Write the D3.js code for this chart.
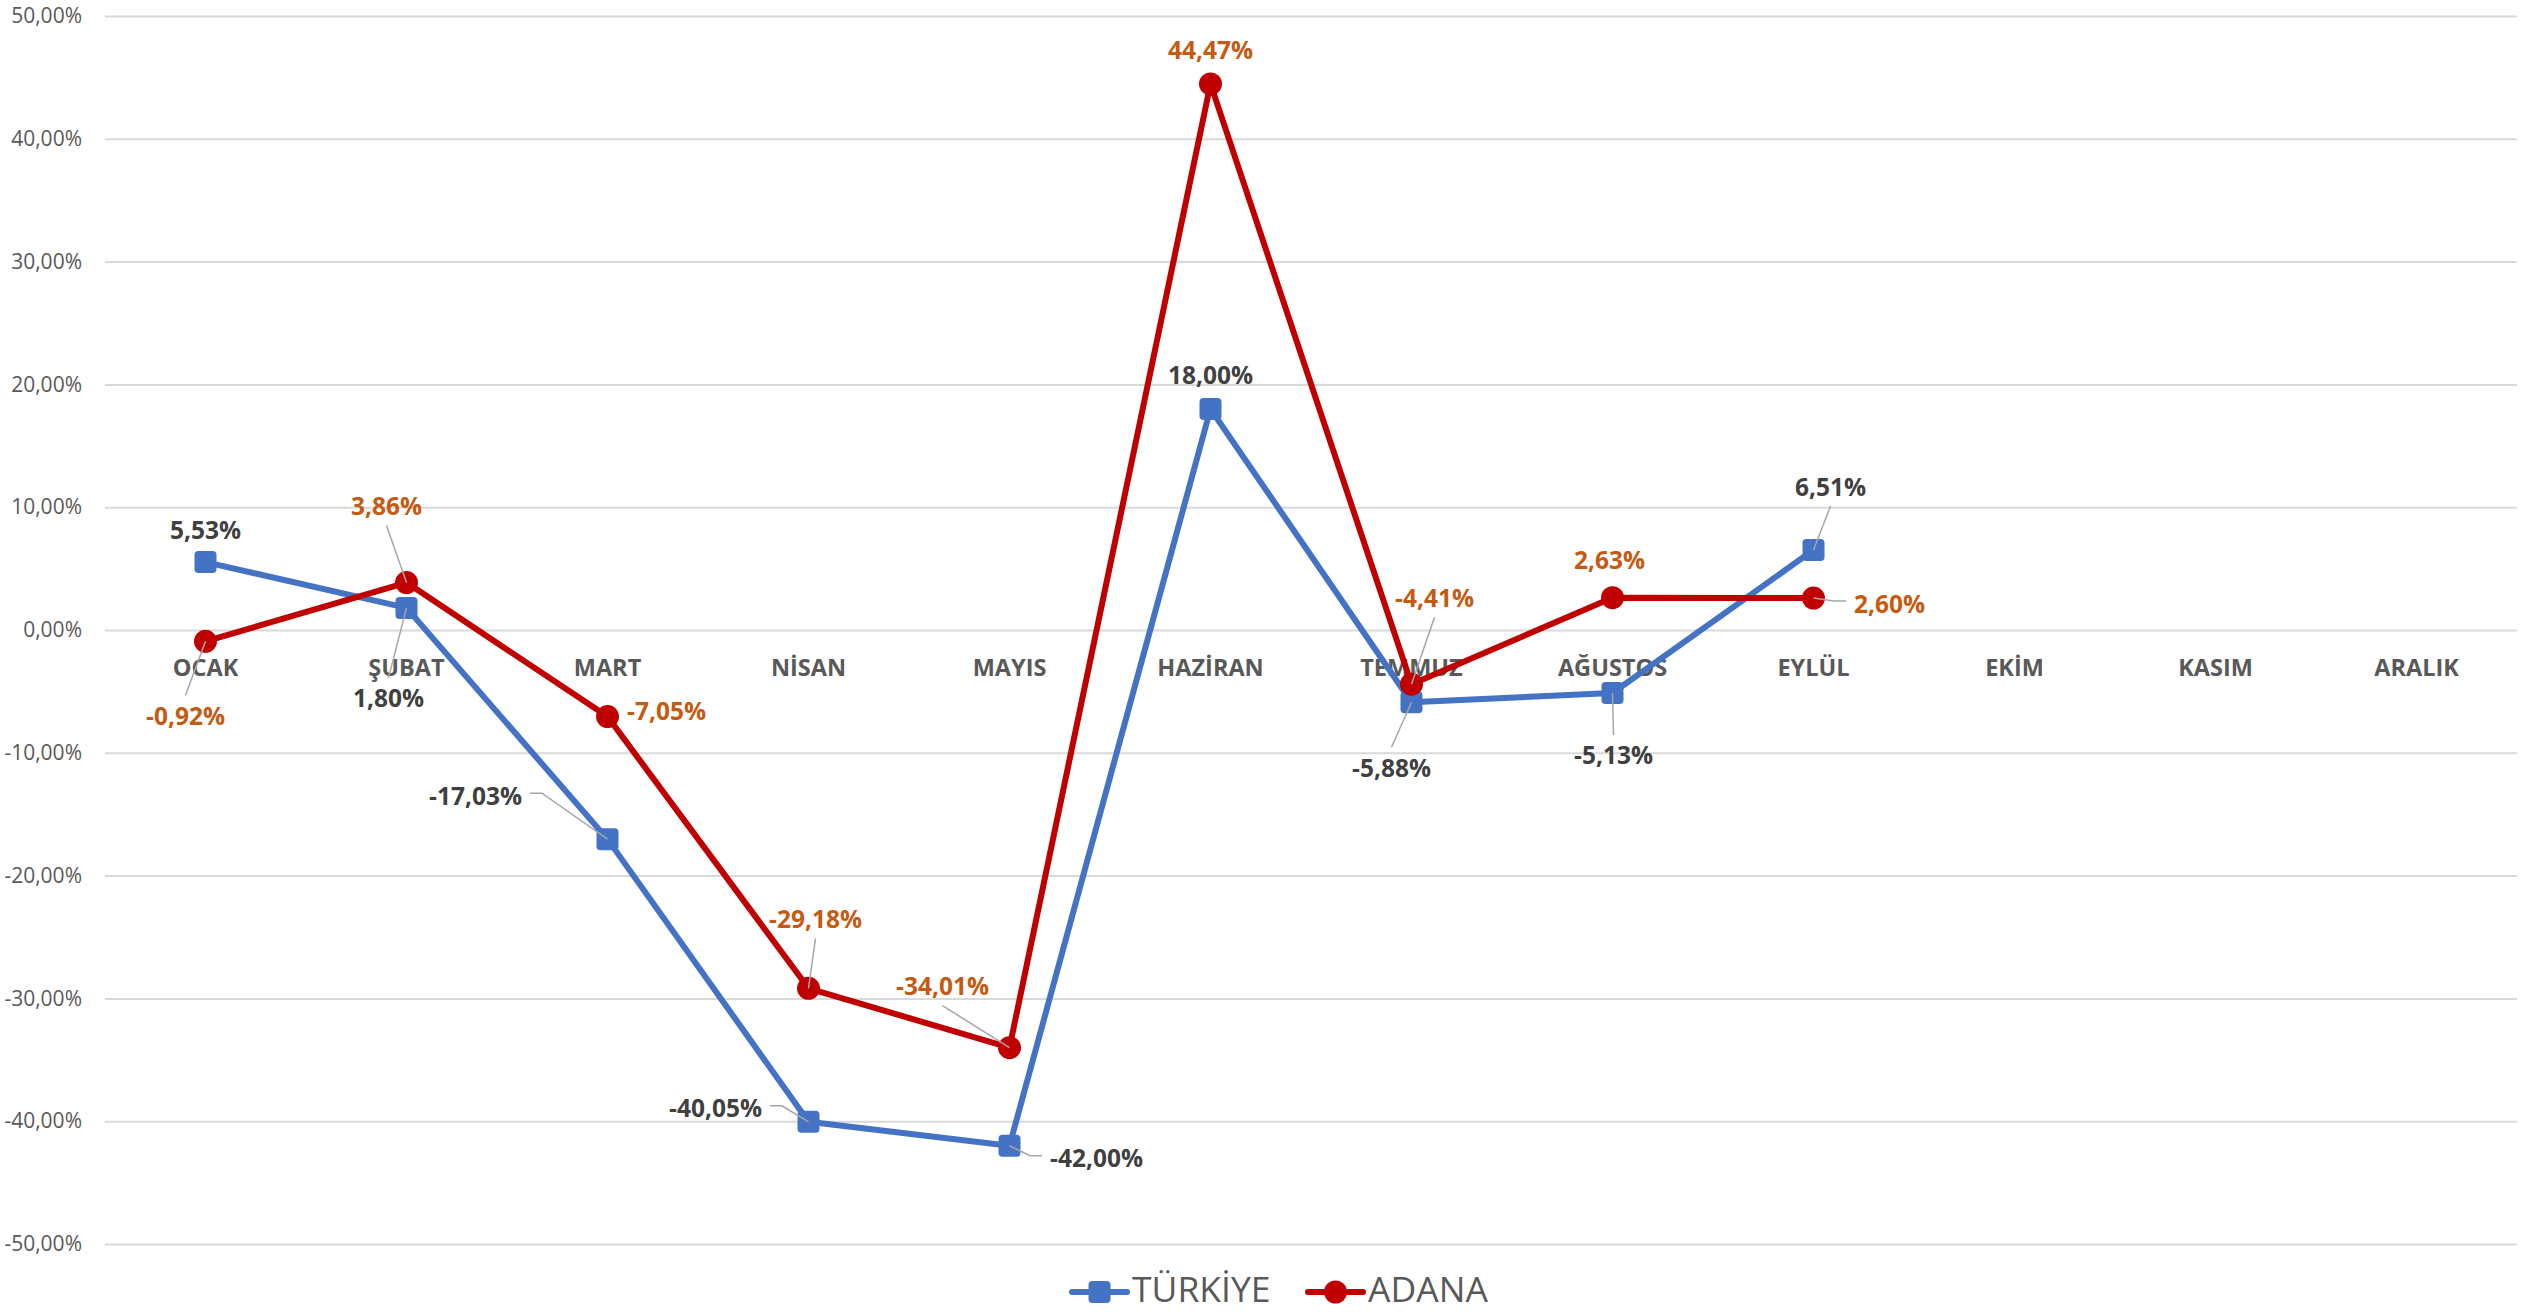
<!DOCTYPE html>
<html>
<head>
<meta charset="utf-8">
<script src="https://cdn.jsdelivr.net/npm/d3@7"></script>
<style>
  html, body { margin: 0; padding: 0; background: #fff; }
  svg { display: block; }
</style>
</head>
<body>
<svg id="chart" width="2526" height="1312"></svg>
<script>
// ---- data ----
const months = ["OCAK", "ŞUBAT", "MART", "NİSAN", "MAYIS", "HAZİRAN", "TEMMUZ", "AĞUSTOS", "EYLÜL", "EKİM", "KASIM", "ARALIK"];
const turkiye = [5.53, 1.80, -17.03, -40.05, -42.00, 18.00, -5.88, -5.13, 6.51, null, null, null];
const adana = [-0.92, 3.86, -7.05, -29.18, -34.01, 44.47, -4.41, 2.63, 2.60, null, null, null];
const seriesNames = ["TÜRKİYE", "ADANA"];
const yTicks = [-50, -40, -30, -20, -10, 0, 10, 20, 30, 40, 50];

// ---- layout (label placement offsets relative to the marker, and leader flags) ----
const turkiyeLabelOffsets = [[0, -33], [-18, 90], [-132, -44], [-93, -14], [87, 12], [0, -34], [-20, 65], [1, 62], [17, -64]];
const turkiyeLeaders = [false, true, true, true, true, false, true, true, true];
const adanaLabelOffsets = [[-20, 74], [-20, -77], [59, -6], [7, -70], [-67, -62], [0, -34], [23, -87], [-3, -38], [76, 5]];
const adanaLeaders = [true, true, false, true, true, false, true, false, true];

(function () {
const mLeft = 105, mRight = 2517, mTop = 16, mBottom = 1244;

const svg = d3.select("#chart");

const x = d3.scaleBand().domain(months).range([mLeft, mRight]).paddingInner(0).paddingOuter(0);
const y = d3.scaleLinear().domain([-50, 50]).range([mBottom, mTop]);
const cx = m => x(m) + x.bandwidth() / 2;

const fmt = v => v.toFixed(2).replace(".", ",") + "%";

// gridlines + y labels via axis
const yAxis = d3.axisLeft(y).tickValues(yTicks).tickSize(-(mRight - mLeft)).tickFormat(d => fmt(d)).tickPadding(23);
const gy = svg.append("g").attr("transform", `translate(${mLeft},0)`).call(yAxis);
gy.select(".domain").remove();
gy.selectAll(".tick line").attr("stroke", "#D9D9D9").attr("stroke-width", 2);
gy.selectAll(".tick text")
  .attr("fill", "#595959")
  .style("font-family", "'Open Sans', sans-serif")
  .style("font-size", "21px");

// category labels (drawn beneath series)
const xAxis = d3.axisBottom(x).tickSize(0).tickPadding(0);
const gx = svg.append("g").attr("transform", `translate(0,${y(0)})`).call(xAxis);
gx.select(".domain").remove();
gx.selectAll(".tick text")
  .attr("dy", null)
  .attr("y", 46)
  .attr("fill", "#595959")
  .style("font-family", "'Open Sans', sans-serif")
  .style("font-weight", "700")
  .style("font-size", "23.5px");

const series = [
  { name: seriesNames[0], values: turkiye, color: "#4472C4", marker: "square", offsets: turkiyeLabelOffsets, leaders: turkiyeLeaders, labelColor: "#404040" },
  { name: seriesNames[1], values: adana, color: "#C00000", marker: "circle", offsets: adanaLabelOffsets, leaders: adanaLeaders, labelColor: "#C55A11" }
];

const line = d3.line()
  .defined(d => d.v !== null)
  .x(d => cx(d.m))
  .y(d => y(d.v));

series.forEach(s => {
  const pts = months.map((m, i) => ({ m, v: s.values[i], i }));
  svg.append("path")
    .datum(pts)
    .attr("d", line)
    .attr("fill", "none")
    .attr("stroke", s.color)
    .attr("stroke-width", 6)
    .attr("stroke-linejoin", "round");
  const valid = pts.filter(d => d.v !== null);
  if (s.marker === "square") {
    svg.append("g").selectAll("rect").data(valid).join("rect")
      .attr("x", d => cx(d.m) - 11)
      .attr("y", d => y(d.v) - 11)
      .attr("width", 22).attr("height", 22)
      .attr("rx", 4).attr("ry", 4)
      .attr("fill", s.color);
  } else {
    svg.append("g").selectAll("circle").data(valid).join("circle")
      .attr("cx", d => cx(d.m))
      .attr("cy", d => y(d.v))
      .attr("r", 11.5)
      .attr("fill", s.color);
  }
});

// data labels + leader lines
series.forEach(s => {
  const g = svg.append("g");
  months.forEach((m, i) => {
    const v = s.values[i];
    if (v === null) return;
    const px = cx(m), py = y(v);
    const [dx, dy] = s.offsets[i];
    const lx = px + dx, ly = py + dy;
    const t = g.append("text")
      .attr("x", lx).attr("y", ly)
      .attr("text-anchor", "middle")
      .attr("dominant-baseline", "central")
      .attr("fill", s.labelColor)
      .style("font-family", "'Open Sans', sans-serif")
      .style("font-weight", "700")
      .style("font-size", "24.5px")
      .text(fmt(v));
    if (s.leaders[i]) {
      const bb = t.node().getBBox();
      let sx, sy, kx, ky;
      if (Math.abs(dx) > Math.abs(dy) * 1.5) {
        const side = dx < 0 ? 1 : -1;
        sx = lx + side * (bb.width / 2 + 8);
        sy = ly - 2;
        kx = sx + side * 12;
        ky = sy;
      } else {
        const side = dy < 0 ? 1 : -1;
        sx = lx;
        sy = ly + side * 20;
        kx = sx; ky = sy;
      }
      g.insert("path", "text")
        .attr("d", `M${sx},${sy}L${kx},${ky}L${px},${py}`)
        .attr("fill", "none")
        .attr("stroke", "#A6A6A6")
        .attr("stroke-width", 1.5);
    }
  });
});

// legend
const legend = svg.append("g");
const legendItems = [
  { name: seriesNames[0], color: "#4472C4", marker: "square", x0: 1072 },
  { name: seriesNames[1], color: "#C00000", marker: "circle", x0: 1308 }
];
const ly0 = 1292;
legendItems.forEach(it => {
  legend.append("line")
    .attr("x1", it.x0).attr("x2", it.x0 + 55)
    .attr("y1", ly0).attr("y2", ly0)
    .attr("stroke", it.color).attr("stroke-width", 6).attr("stroke-linecap", "round");
  if (it.marker === "square") {
    legend.append("rect")
      .attr("x", it.x0 + 27.5 - 11).attr("y", ly0 - 11)
      .attr("width", 22).attr("height", 22).attr("rx", 4)
      .attr("fill", it.color);
  } else {
    legend.append("circle")
      .attr("cx", it.x0 + 27.5).attr("cy", ly0).attr("r", 11.5)
      .attr("fill", it.color);
  }
  legend.append("text")
    .attr("x", it.x0 + 60).attr("y", 1302)
    .attr("fill", "#595959")
    .style("font-family", "'Open Sans', sans-serif")
    .style("font-size", "35.5px")
    .text(it.name);
});
})();
</script>
</body>
</html>
